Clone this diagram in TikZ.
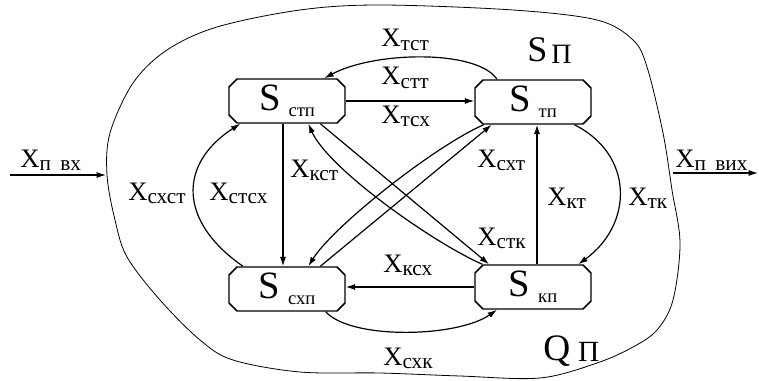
\documentclass[tikz,border=0pt]{standalone}
\usepackage{fontspec}
\setmainfont{Liberation Serif}
\usetikzlibrary{arrows.meta,positioning,shapes.misc}

\newcommand\subfnt{\fontsize{16}{16}\selectfont}
\newcommand\xlab[1]{X\raisebox{-2.5pt}{\subfnt #1}}
\newcommand\slab[1]{S\hspace{6pt}\raisebox{-4.5pt}{\fontsize{14}{14}\selectfont #1}}

\begin{document}
\begin{tikzpicture}[x=0.75pt, y=-0.75pt,
  state/.style={chamfered rectangle, chamfered rectangle xsep=3pt, chamfered rectangle ysep=3pt,
    draw, line width=1.1pt, minimum width=87pt, minimum height=33pt, inner sep=0pt,
    font=\fontsize{29}{29}\selectfont},
  flow/.style={line width=0.9pt, -{Latex[length=7pt,width=4.5pt]}},
  lab/.style={anchor=base west, inner sep=0pt, font=\fontsize{20}{20}\selectfont},
  set/.style={anchor=base west, inner sep=0pt}]
  \useasboundingbox (0,0) rectangle (759,381);
  % region boundary
  \draw[line width=0.6pt] plot[smooth cycle, tension=0.55] coordinates {
    (107,175) (110,133) (133,83) (167,50) (217,27) (300,10) (380,5) (513,10)
    (597,20) (633,40) (647,67) (663,133) (672,190) (680,243) (673,300) (657,330)
    (633,347) (597,363) (540,378) (460,376) (380,373) (300,372) (233,360) (200,340)
    (160,300) (127,257) (115,220)};
  % states
  \node[state] (stp) at (287,101) {\slab{стп}};
  \node[state] (tp) at (533,102) {\slab{тп}};
  \node[state] (sxp) at (287,289) {\slab{схп}};
  \node[state] (kp) at (533,287) {\slab{кп}};
  % input and output
  \coordinate (inL) at (10,175);
  \coordinate (inR) at (106,175);
  \coordinate (outL) at (673,173);
  \coordinate (outR) at (758,173);
  \draw[flow] (inL) -- (inR);
  \draw[flow] (outL) -- (outR);
  % transitions
  \draw[flow] ([xshift=-27pt]tp.north) .. controls +(-20,-30) and +(50,-27) .. ([xshift=28pt]stp.north);
  \draw[flow] (stp.east) -- (stp.east -| tp.west);
  \draw[flow] ([xshift=-3pt]stp.south) -- ([xshift=-3pt]stp.south |- sxp.north);
  \draw[flow] ([xshift=-33pt]sxp.north) .. controls +(-65,-45) and +(-62,40) .. ([xshift=-35pt]stp.south);
  \draw[flow] ([xshift=29pt]sxp.south) .. controls +(25,28) and +(-40,28) .. ([xshift=-27pt]kp.south);
  \draw[flow] (kp.west) -- (kp.west -| sxp.east);
  \draw[flow] ([xshift=3pt]kp.north) -- ([xshift=3pt]kp.north |- tp.south);
  \draw[flow] ([xshift=31pt]tp.south) .. controls +(60,30) and +(55,-40) .. ([xshift=34pt]kp.north);
  \draw[flow] ([xshift=25pt]stp.south) -- ([xshift=-33pt]kp.north);
  \draw[flow] ([xshift=-38pt]kp.north) .. controls +(-50,-22) and +(20,45) .. ([xshift=16pt]stp.south);
  \draw[flow] ([xshift=25pt]sxp.north) -- ([xshift=-31pt]tp.south);
  \draw[flow] ([xshift=-37pt]tp.south) .. controls +(-50,22) and +(25,-40) .. ([xshift=16pt]sxp.north);
  % labels
  \node[lab] (lin) at (20,167) {\xlab{п\hspace{7pt}вх}};
  \node[lab] (lout) at (675,167) {\xlab{п\hspace{7pt}вих}};
  \node[lab] (ltst) at (381,47) {\xlab{тст}};
  \node[lab] (lstt) at (381,85) {\xlab{стт}};
  \node[lab] (ltsx) at (381,123) {\xlab{тсх}};
  \node[lab] (lkst) at (290,177) {\xlab{кст}};
  \node[lab] (lsxst) at (128,200) {\xlab{схст}};
  \node[lab] (lstsx) at (209,200) {\xlab{стсх}};
  \node[lab] (lsxt) at (477,167) {\xlab{схт}};
  \node[lab] (lkt) at (547,205) {\xlab{кт}};
  \node[lab] (ltk) at (628,205) {\xlab{тк}};
  \node[lab] (lstk) at (477,245) {\xlab{стк}};
  \node[lab] (lksx) at (383,272) {\xlab{ксх}};
  \node[lab] (lsxk) at (383,365) {\xlab{схк}};
  \node[set] (sset) at (527,62) {\fontsize{27}{27}\selectfont S\hspace{3pt}\raisebox{-1pt}{\fontsize{21}{21}\selectfont П}};
  \node[set] (qset) at (543,360) {\fontsize{28}{28}\selectfont Q\hspace{6pt}\raisebox{-1pt}{\fontsize{22}{22}\selectfont П}};
\end{tikzpicture}
\end{document}
